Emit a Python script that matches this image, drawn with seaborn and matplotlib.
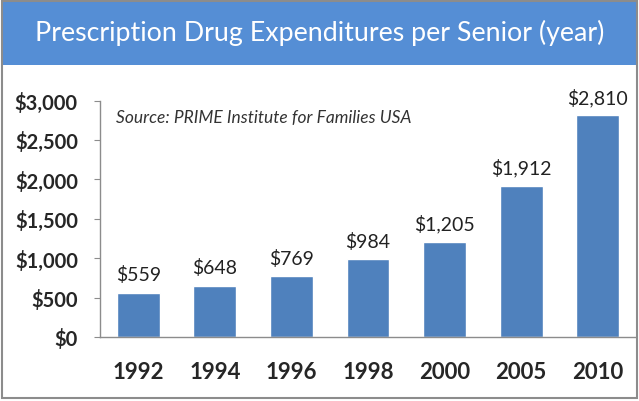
# gastos com medicamentos por idoso - grafico de barras

import matplotlib
matplotlib.use("Agg")
import matplotlib.pyplot as plt
import seaborn as sns
import pandas as pd
from matplotlib.patches import Rectangle

anos = ["1992", "1994", "1996", "1998", "2000", "2005", "2010"]
gastos = [559, 648, 769, 984, 1205, 1912, 2810]
yticks = [0, 500, 1000, 1500, 2000, 2500, 3000]

titulo = "Prescription Drug Expenditures per Senior (year)"
fonte = "Source: PRIME Institute for Families USA"

sns.set_style("white")
plt.rcParams['font.family'] = ['Lato', 'DejaVu Sans']

df = pd.DataFrame({"ano": anos, "gasto": gastos})

W, H = 639, 402
fig = plt.figure(figsize=(W / 100, H / 100), dpi=100)

# faixa azul do titulo e moldura
fig.patches.append(Rectangle((2 / W, (H - 66) / H), 635 / W, 64 / H,
                             transform=fig.transFigure, facecolor="#558ED5",
                             edgecolor="none", zorder=0))
fig.patches.append(Rectangle((2 / W, 3 / H), 635 / W, (H - 5) / H,
                             transform=fig.transFigure, facecolor="none",
                             edgecolor="#8C8C8C", linewidth=1.5, zorder=1))
fig.text(0.5, (H - 33) / H, titulo, color="white", fontsize=19.3,
         ha="center", va="center")

ax = fig.add_axes([100 / W, (H - 338) / H, 536 / W, (338 - 101.5) / H])
sns.barplot(data=df, x="ano", y="gasto", color="#4F81BD", width=0.56,
            saturation=1, ax=ax)

ax.set_xlim(-0.5, len(anos) - 0.5)
ax.set_ylim(0, 3000)
ax.set_yticks(yticks)
ax.set_yticklabels([f"${v:,}" for v in yticks], fontsize=14.5, fontweight="bold")
ax.set_xticks(range(len(anos)))
ax.set_xticklabels(anos, fontsize=16, fontweight="bold")
ax.set_xticks([i - 0.5 for i in range(len(anos))], minor=True)
ax.tick_params(axis="x", which="major", length=0, pad=17)
ax.tick_params(axis="x", which="minor", length=4, color="#8C8C8C", direction="out")
ax.tick_params(axis="y", length=4, color="#8C8C8C", direction="out", pad=12, left=True)
ax.set_xlabel("")
ax.set_ylabel("")

for s in ["top", "right"]:
    ax.spines[s].set_visible(False)
for s in ["left", "bottom"]:
    ax.spines[s].set_color("#8C8C8C")
    ax.spines[s].set_linewidth(1)

# rotulos de valor
for i, v in enumerate(gastos):
    ax.text(i, v + 120, f"${v:,}", ha="center", va="bottom", fontsize=14,
            color="#222222", clip_on=False)

ax.text(0.03, 0.93, fonte, transform=ax.transAxes, fontsize=12.5,
        style="italic", color="#333333", ha="left", va="center")

fig.savefig("out.png", dpi=100)
